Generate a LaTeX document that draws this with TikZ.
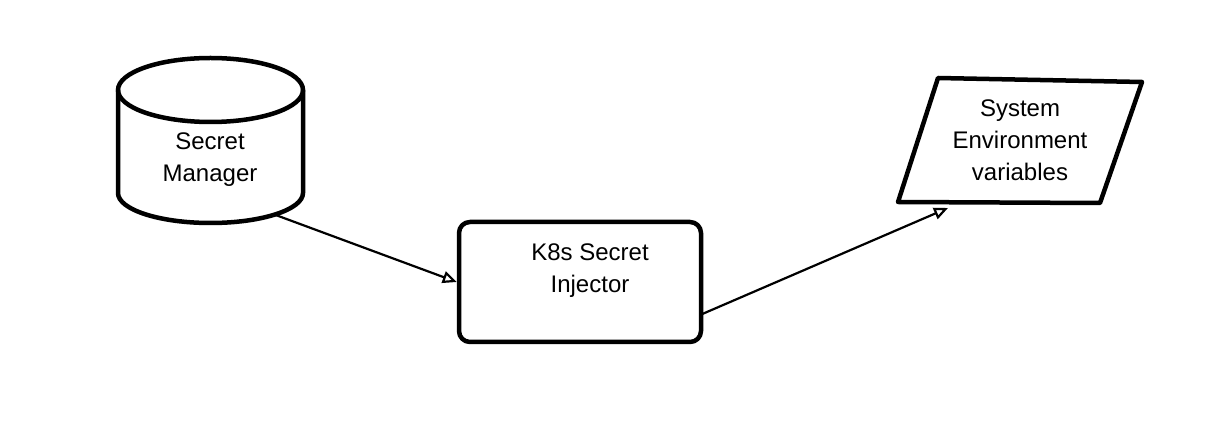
\documentclass[tikz,border=0pt]{standalone}
\usepackage{fontspec}
\setmainfont{Liberation Sans}
\usetikzlibrary{arrows.meta}
\begin{document}
\begin{tikzpicture}[x=1pt,y=1pt,
  shapeline/.style={line width=4.5pt,line cap=round,line join=round},
  conn/.style={line width=2.2pt,-{Triangle[open,length=14pt,width=12pt,line width=2.2pt]}},
  txt/.style={align=center,font=\fontsize{24}{32}\selectfont,inner sep=0pt}]
\useasboundingbox (0,0) rectangle (1218,447);
% Secret Manager cylinder
\draw[shapeline] (210.5,357) ellipse [x radius=92.5,y radius=32];
\draw[shapeline] (118,357) -- (118,254) arc[start angle=180,end angle=360,x radius=92.5,y radius=30] -- (303,357);
\node[txt] (sm) at (210,287) {Secret\\Manager};
\coordinate (smout) at (273,233);
% K8s Secret Injector box
\node[shapeline,draw,rounded corners=11pt,minimum width=242pt,minimum height=120pt,inner sep=0pt] (ki) at (580,165) {};
\node[txt] (kit) at (590,176) {K8s Secret\\Injector};
\coordinate (kiout) at (700,132);
% System Environment variables parallelogram
\draw[shapeline] (938,369) -- (1142,365) -- (1100,244) -- (898,245) -- cycle;
\node[txt] (ev) at (1020,307) {System\\Environment\\variables};
\coordinate (evin) at (948,239);
% connectors
\draw[conn] (smout) -- (ki.west);
\draw[conn] (kiout) -- (evin);
\end{tikzpicture}
\end{document}
